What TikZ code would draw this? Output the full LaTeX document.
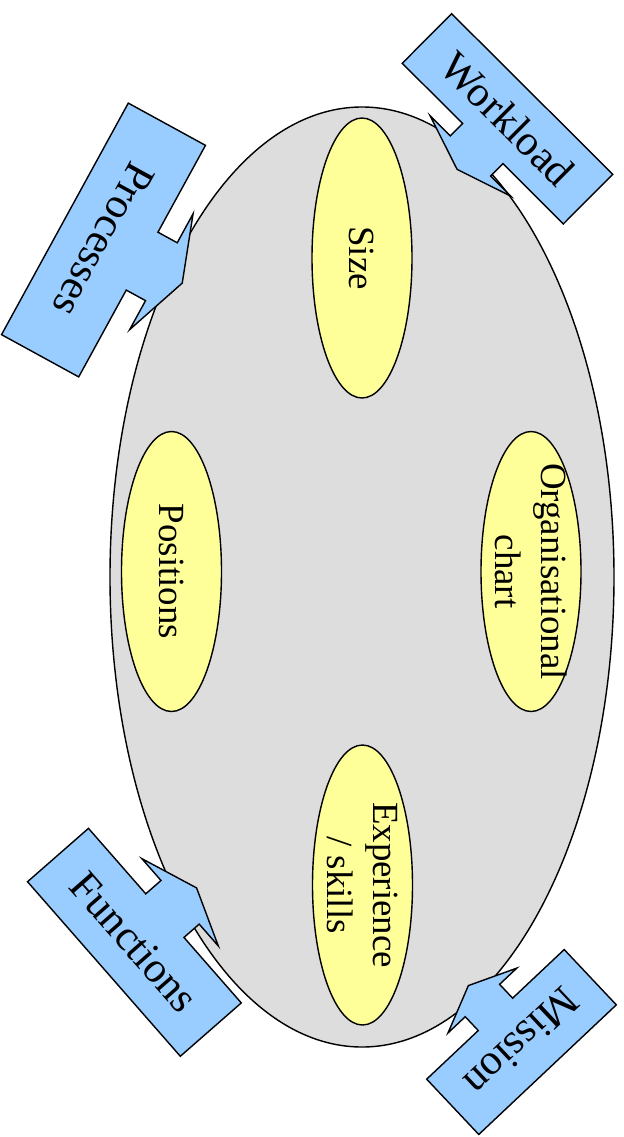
\documentclass[tikz,border=0pt]{standalone}
\usepackage{fontspec}
\setmainfont{Liberation Serif}
\usetikzlibrary{shapes.geometric}

\definecolor{unitgrey}{HTML}{DDDDDD}
\definecolor{topicyellow}{HTML}{FFFF99}
\definecolor{inputblue}{HTML}{99CCFF}

\begin{document}
\begin{tikzpicture}[
    % Styles
    outline/.style={draw=black, line width=0.8pt},
    unit/.style={outline, fill=unitgrey, ellipse, inner sep=0pt, minimum width=10.08cm, minimum height=18.8cm},
    topic/.style={outline, fill=topicyellow, ellipse, inner sep=-0.4cm, rotate=-90, minimum width=5.6cm, minimum height=2cm, align=center, font=\fontsize{21}{26}\selectfont},
    callout/.style={outline, fill=inputblue, line join=miter},
    callout text/.style={transform shape, font=\fontsize{24.5}{28}\selectfont},
]

\useasboundingbox (0,0) rectangle (12.48,-22.74);

% Callout outline: box of half length \hl, half width \hw, pointer on side \sd
\def\calloutshape{(-\hl,{-\sd*\hw}) -- (\hl,{-\sd*\hw}) -- (\hl,{\sd*\hw})
    -- ({\hl/4},{\sd*\hw}) -- ({\hl/4},{\sd*1.5*\hw}) -- ({\hl/2},{\sd*1.5*\hw})
    -- (0,{\sd*2.04*\hw})
    -- ({-\hl/2},{\sd*1.5*\hw}) -- ({-\hl/4},{\sd*1.5*\hw}) -- ({-\hl/4},{\sd*\hw})
    -- (-\hl,{\sd*\hw}) -- cycle}

% The organisation
\node[unit] (org) at (7.24,-11.54) {};

% Its elements
\node[topic] (size) at (7.24,-5.16) {Size};
\node[topic] (positions) at (3.43,-11.43) {Positions};
\node[topic] (chart) at (10.62,-11.43) {Organisational\\chart};
\node[topic] (skills) at (7.25,-17.70) {Experience\\/ skills};

% Inputs pointing at the organisation
\begin{scope}[shift={(2.07,-4.80)}, rotate=-118.7]
    \def\hl{2.64} \def\hw{0.88} \def\sd{1}
    \draw[callout] \calloutshape;
    \node[callout text] (processes) at (0,0) {Processes};
\end{scope}

\begin{scope}[shift={(10.15,-2.376)}, rotate=-44.9]
    \def\hl{2.275} \def\hw{0.70} \def\sd{-1}
    \draw[callout] \calloutshape;
    \node[callout text] (workload) at (0,0) {Workload};
\end{scope}

\begin{scope}[shift={(2.688,-18.846)}, rotate=-48.8]
    \def\hl{2.32} \def\hw{0.81} \def\sd{1}
    \draw[callout] \calloutshape;
    \node[callout text] (functions) at (0,0) {Functions};
\end{scope}

\begin{scope}[shift={(10.43,-20.84)}, rotate=-136.7]
    \def\hl{1.89} \def\hw{0.76} \def\sd{-1}
    \draw[callout] \calloutshape;
    \node[callout text] (mission) at (0,0) {Mission};
\end{scope}

\end{tikzpicture}
\end{document}
